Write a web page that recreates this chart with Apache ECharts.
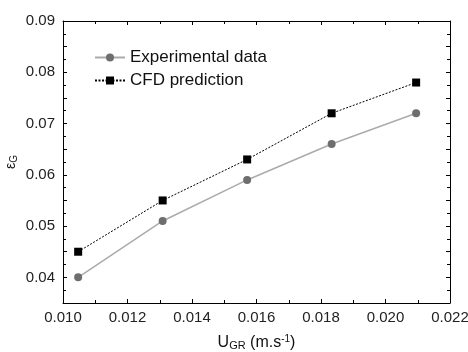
<!DOCTYPE html>
<html><head><meta charset="utf-8">
<script src="https://cdn.jsdelivr.net/npm/echarts@6/dist/echarts.min.js"></script>
<style>html,body{margin:0;padding:0;background:#fff}#c{width:468px;height:352px}</style>
</head><body><div id="c"></div>
<script>
var ugr = [0.01047, 0.01309, 0.01571, 0.01833, 0.02095];
var experimental = [0.0400, 0.0510, 0.0590, 0.0660, 0.0720];
var cfd = [0.0450, 0.0550, 0.0630, 0.0720, 0.0780];
var seriesNames = ['Experimental data', 'CFD prediction'];

function pairs(xs, ys){ return xs.map(function(x,i){ return [x, ys[i]]; }); }
var font = 'Liberation Sans, Arial, sans-serif';
var chart = echarts.init(document.getElementById('c'));
var axisLineStyle = {show:true, lineStyle:{color:'#000', width:1}};
var tickIn = {show:true, inside:true, length:4, lineStyle:{color:'#000'}};
var minorIn = {show:true, splitNumber:2, length:3, lineStyle:{color:'#000'}};
function yfmt(v){ var r = Math.round(v*1000); return (r % 10 === 0) ? v.toFixed(2) : ''; }
chart.setOption({
  animation:false,
  backgroundColor:'#fff',
  grid:{left:63, right:18, top:21, bottom:49, containLabel:false, outerBoundsMode:'none'},
  legend:{
    orient:'vertical', left:89, top:44, itemGap:6, itemWidth:30, itemHeight:10,
    textStyle:{fontFamily:font, fontSize:17, color:'#111'},
    data:seriesNames
  },
  xAxis:[{
    type:'value', min:0.010, max:0.022, interval:0.002,
    axisLine:axisLineStyle, axisTick:tickIn,
    minorTick:minorIn, splitLine:{show:false},
    axisLabel:{fontFamily:font, fontSize:15, color:'#222', margin:7, formatter:function(v){return v.toFixed(3);}},
    name:'{a|U}{s|GR}{a| (m.s}{p|-1}{a|)}', nameLocation:'middle', nameGap:31,
    nameTextStyle:{rich:{
      a:{fontFamily:font, fontSize:16, color:'#111'},
      s:{fontFamily:font, fontSize:11, color:'#111', verticalAlign:'bottom', padding:[6,0,0,0]},
      p:{fontFamily:font, fontSize:10, color:'#111', verticalAlign:'top', padding:[0,0,6,0]}
    }}
  },{
    type:'value', position:'top', min:0.010, max:0.022, interval:0.002,
    axisLine:axisLineStyle, axisTick:tickIn, minorTick:minorIn,
    axisLabel:{show:false}, splitLine:{show:false}
  }],
  yAxis:[{
    type:'value', min:0.035, max:0.09, interval:0.005,
    axisLine:axisLineStyle, axisTick:tickIn, minorTick:minorIn, splitLine:{show:false},
    axisLabel:{fontFamily:font, fontSize:15, color:'#222', margin:8, formatter:yfmt},
    name:'{e|ε}{s|G}', nameLocation:'middle', nameGap:44, nameRotate:90, nameMoveOverlap:false,
    nameTextStyle:{rich:{
      e:{fontFamily:font, fontSize:14, color:'#111'},
      s:{fontFamily:font, fontSize:10, color:'#111', verticalAlign:'bottom', padding:[6,0,0,0]}
    }}
  },{
    type:'value', position:'right', min:0.035, max:0.09, interval:0.005,
    axisLine:axisLineStyle, axisTick:tickIn, minorTick:minorIn,
    axisLabel:{show:false}, splitLine:{show:false}
  }],
  series:[{
    name:seriesNames[0], type:'line', data:pairs(ugr, experimental),
    symbol:'circle', symbolSize:8,
    itemStyle:{color:'#6e6e6e'},
    lineStyle:{color:'#ababab', width:1.5}
  },{
    name:seriesNames[1], type:'line', data:pairs(ugr, cfd),
    symbol:'rect', symbolSize:8,
    itemStyle:{color:'#000'},
    lineStyle:{color:'#000', width:1, type:[2,1.5]}
  }]
});
</script></body></html>
